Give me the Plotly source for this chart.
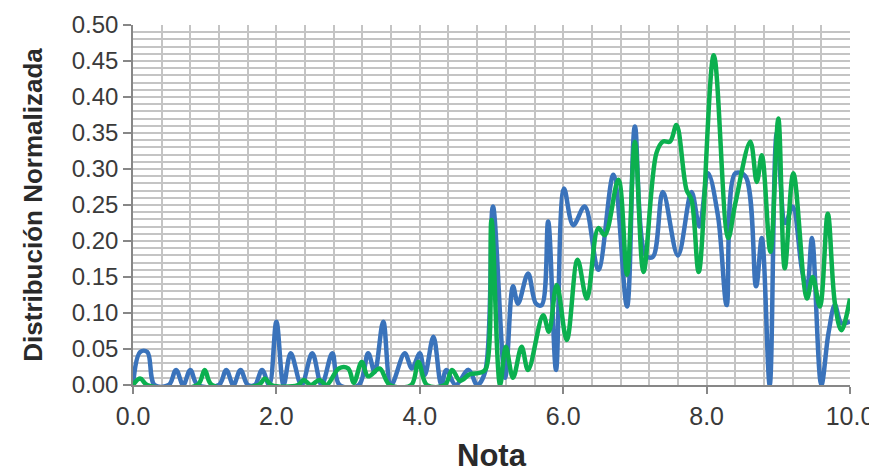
import plotly.graph_objects as go

# Blue series (x positions, values)
x_blue = [0.0, 0.1, 0.2, 0.3, 0.5, 0.6, 0.7, 0.8, 0.9, 1.2, 1.3, 1.4, 1.5, 1.6, 1.7, 1.8, 1.9,
          2.0, 2.1, 2.2, 2.35, 2.5, 2.63, 2.78, 2.88, 3.15, 3.28, 3.37, 3.49, 3.6, 3.79, 3.89,
          4.0, 4.07, 4.19, 4.3, 4.37, 4.5, 4.68, 4.8, 4.91, 5.02, 5.19, 5.3, 5.37, 5.51, 5.62,
          5.7, 5.79, 5.9, 6.01, 6.14, 6.3, 6.49, 6.7, 6.89, 7.0, 7.15, 7.25, 7.39, 7.6, 7.79,
          7.9, 8.02, 8.16, 8.28, 8.4, 8.54, 8.69, 8.77, 8.88, 8.98, 9.1, 9.2, 9.33, 9.4, 9.47,
          9.6, 9.7, 9.79, 9.88, 10.0]
y_blue = [0.0, 0.046, 0.046, 0.0, 0.0, 0.021, 0.0, 0.021, 0.0, 0.0, 0.021, 0.0, 0.021, 0.0, 0.0, 0.021, 0.0,
          0.088, 0.0, 0.044, 0.0, 0.044, 0.0, 0.044, 0.0, 0.0, 0.044, 0.018, 0.088, 0.0, 0.044, 0.023,
          0.044, 0.014, 0.067, 0.0, 0.021, 0.0, 0.021, 0.0, 0.018, 0.248, 0.01, 0.137, 0.113, 0.155, 0.113,
          0.111, 0.227, 0.021, 0.273, 0.222, 0.248, 0.16, 0.292, 0.109, 0.359, 0.18, 0.178, 0.268, 0.18, 0.268,
          0.22, 0.294, 0.234, 0.111, 0.294, 0.29, 0.137, 0.204, 0.0, 0.35, 0.225, 0.248, 0.16, 0.132, 0.204,
          0.0, 0.072, 0.111, 0.086, 0.088]

# Green series
x_green = [0.0, 0.1, 0.2, 0.9, 1.0, 1.1, 1.75, 1.84, 1.93, 2.3, 2.38, 2.48, 2.6, 2.7, 2.87, 3.0,
           3.08, 3.19, 3.28, 3.44, 3.58, 3.88, 3.98, 4.1, 4.35, 4.45, 4.56, 4.7, 4.84, 4.92, 5.0,
           5.12, 5.2, 5.3, 5.42, 5.51, 5.72, 5.8, 5.91, 6.05, 6.2, 6.33, 6.49, 6.58, 6.77, 6.89,
           7.0, 7.12, 7.3, 7.39, 7.49, 7.58, 7.72, 7.79, 7.89, 8.1, 8.3, 8.4, 8.61, 8.7, 8.77,
           8.89, 9.0, 9.09, 9.21, 9.4, 9.48, 9.58, 9.69, 9.79, 9.88, 10.0]
y_green = [0.0, 0.009, 0.0, 0.0, 0.021, 0.0, 0.0, 0.009, 0.0, 0.0, 0.007, 0.0, 0.007, 0.0, 0.023, 0.023,
           0.003, 0.032, 0.012, 0.023, 0.0, 0.0, 0.032, 0.0, 0.0, 0.021, 0.006, 0.015, 0.017, 0.022, 0.229,
           0.0, 0.053, 0.01, 0.053, 0.021, 0.097, 0.074, 0.139, 0.0625, 0.174, 0.12, 0.218, 0.208, 0.285, 0.153,
           0.338, 0.157, 0.322, 0.338, 0.338, 0.361, 0.271, 0.257, 0.157, 0.458, 0.204, 0.252, 0.338, 0.282, 0.319,
           0.185, 0.37, 0.162, 0.294, 0.12, 0.15, 0.109, 0.238, 0.113, 0.076, 0.12]

y_ticks = [0.0, 0.05, 0.10, 0.15, 0.20, 0.25, 0.30, 0.35, 0.40, 0.45, 0.50]
x_ticks = [0.0, 2.0, 4.0, 6.0, 8.0, 10.0]

FONT = "Liberation Sans, Arial, sans-serif"
GRID = "#c4c4c4"
AXIS = "#878787"
TXT = "#3a3a3a"

fig = go.Figure()
fig.add_trace(go.Scatter(x=x_blue, y=y_blue, mode="lines",
                         line=dict(color="#3a73bb", width=4.5, shape="spline", smoothing=1.0),
                         showlegend=False))
fig.add_trace(go.Scatter(x=x_green, y=y_green, mode="lines",
                         line=dict(color="#0bb04f", width=4.5, shape="spline", smoothing=1.0),
                         showlegend=False))

# page body has an 8px margin, so the figure is sized/offset to compensate
fig.update_layout(
    width=869, height=465,
    margin=dict(l=125, r=27, t=17, b=88),
    paper_bgcolor="white", plot_bgcolor="white",
    font=dict(family=FONT, color=TXT),
)
fig.update_xaxes(
    range=[0, 10], tickvals=x_ticks, ticktext=[f"{v:.1f}" for v in x_ticks],
    automargin=False,
    showgrid=True, gridcolor=GRID, gridwidth=1.5,
    minor=dict(dtick=0.4, tick0=0, showgrid=True, gridcolor=GRID, gridwidth=1.5),
    ticks="outside", ticklen=7, tickcolor=AXIS, tickwidth=1.5,
    showline=True, linecolor=AXIS, linewidth=1.5,
    ticklabelstandoff=1,
    tickfont=dict(size=25, family=FONT, color=TXT),
    title=dict(text="<b>Nota</b>", font=dict(size=31, family=FONT, color="#2a2a2a"), standoff=24),
    zeroline=False,
)
fig.update_yaxes(
    range=[0, 0.5], tickvals=y_ticks, ticktext=[f"{v:.2f}" for v in y_ticks],
    automargin=False,
    showgrid=True, gridcolor=GRID, gridwidth=1.5,
    minor=dict(dtick=0.01, tick0=0, showgrid=True, gridcolor=GRID, gridwidth=1.5),
    ticks="outside", ticklen=8, tickcolor=AXIS, tickwidth=1.5,
    showline=True, linecolor=AXIS, linewidth=1.5,
    tickfont=dict(size=24, family=FONT, color=TXT),
    title=dict(text="<b>Distribución Normalizada</b>", font=dict(size=26, family=FONT, color="#2a2a2a"), standoff=22),
    zeroline=False,
)
fig.write_html("out.html")
